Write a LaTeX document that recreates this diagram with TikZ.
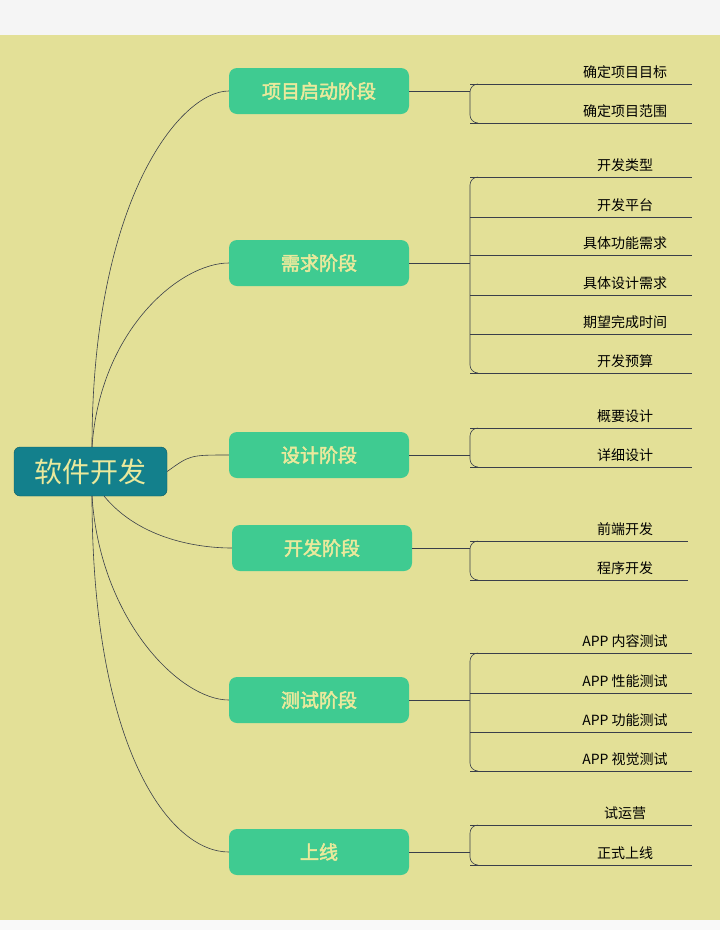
\documentclass[tikz,border=0pt]{standalone}
\usepackage{fontspec}
\newfontfamily\cjk{Noto Sans CJK SC}
\newfontfamily\cjkb{Noto Sans CJK SC}[FakeBold=2.5]
\definecolor{bg}{HTML}{E3E097}
\definecolor{rootc}{HTML}{13808C}
\definecolor{brc}{HTML}{3FCB91}
\definecolor{txt}{HTML}{EAE99C}
\definecolor{ln}{HTML}{3A3F4A}
\begin{document}
\begin{tikzpicture}[x=1pt,y=-1pt,
  root/.style={draw=rootc!70!black,fill=rootc,rounded corners=6pt,minimum width=153pt,minimum height=49pt,text=txt,font=\cjk\fontsize{28}{30}\selectfont,inner sep=0pt},
  br/.style={fill=brc,rounded corners=8pt,minimum width=180pt,minimum height=46pt,text=txt,font=\cjkb\fontsize{19}{21}\selectfont,inner sep=0pt},
  leaf/.style={font=\cjk\fontsize{14}{16}\selectfont,inner sep=0pt},
  con/.style={draw=ln,line width=0.6pt},
  tie/.style={draw=ln,line width=0.6pt,rounded corners=8pt}]
\useasboundingbox (0,0) rectangle (720,930);
\fill[gray!8] (0,0) rectangle (720,35);
\fill[bg] (0,35) rectangle (720,920);
\fill[gray!5] (0,920) rectangle (720,930);
\node[root] (R) at (90.5,471.5) {软件开发};
\node[br] (B1) at (319,91) {项目启动阶段};
\node[br] (B2) at (319,263) {需求阶段};
\node[br] (B3) at (319,455) {设计阶段};
\node[br] (B4) at (322,548) {开发阶段};
\node[br] (B5) at (319,700) {测试阶段};
\node[br] (B6) at (319,852) {上线};
% root connectors
\coordinate (Rt) at (92,447);
\coordinate (Rb) at (92,496);
\draw[con] (Rt) .. controls (92,200) and (180,91) .. (B1.west);
\draw[con] (Rt) .. controls (100,330) and (180,263) .. (B2.west);
\draw[con] (R.east) .. controls (190,455) .. (B3.west);
\draw[con] (104,496) .. controls (140,540) and (200,548) .. (B4.west);
\draw[con] (Rb) .. controls (100,620) and (180,700) .. (B5.west);
\draw[con] (Rb) .. controls (92,750) and (170,852) .. (B6.west);
% leaves: #1 branch, #2 list of text/y
\newcommand{\mkleaves}[4]{% branch, first line y, last line y, list
  \coordinate (#1j) at (470,#1.east |- 0,0);
  \draw[con] (#1.east) -- (470,{#2+#3}) ;}
% Branch 1
\foreach \br/\by/\xe/\lst in {
  B1/91/692/{确定项目目标/72,确定项目范围/111},
  B2/263/692/{开发类型/165,开发平台/205,具体功能需求/243,具体设计需求/283,期望完成时间/322,开发预算/361},
  B3/455/692/{概要设计/416,详细设计/455},
  B4/548/688/{前端开发/529,程序开发/568},
  B5/700/692/{APP 内容测试/641,APP 性能测试/681,APP 功能测试/720,APP 视觉测试/759},
  B6/852/692/{试运营/813,正式上线/853}}{
  \coordinate (J) at (470,\by);
  \draw[con] (\br.east) -- (J);
  \foreach \t/\y [count=\i] in \lst {
    \node[leaf] (L\i) at (625,\y) {\t};
    \coordinate (U\i) at (\xe,\y+12);
    \ifnum\i=1 \xdef\firsty{\y}\fi
    \xdef\lasty{\y}
  }
  \foreach \t/\y [count=\i] in \lst {
    \coordinate (S) at (470,\y+12);
    \draw[con] (S) -- (U\i);
  }
  \draw[tie] (478,\firsty+12) -- (470,\firsty+12) -- (470,\lasty+12) -- (478,\lasty+12);
}
\end{tikzpicture}
\end{document}
